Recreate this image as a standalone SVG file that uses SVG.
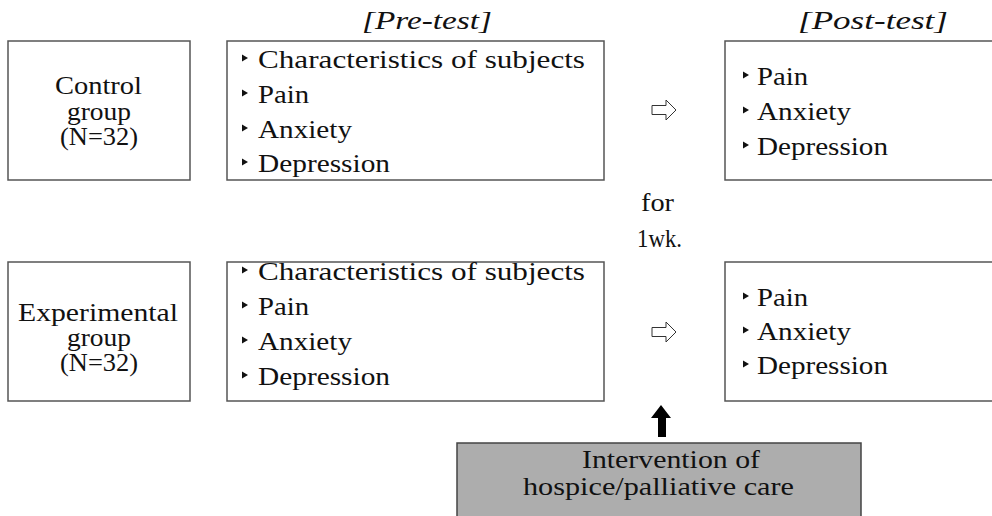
<svg xmlns="http://www.w3.org/2000/svg" width="992" height="516" viewBox="0 0 992 516">
<style>
.box{fill:#fff;stroke:#555;stroke-width:1.5}
.hollow{fill:#fff;stroke:#333;stroke-width:1}
</style>
<defs>
<path id="blt" d="M0,-3.5 L6,0 L0,3.5 Z" fill="#111"/>
<path id="harrow" d="M0,-4.5 H14 V-10 L24,0 L14,10 V4.5 H0 Z" class="hollow"/>
</defs>
<rect width="992" height="516" fill="#fff"/>
<g font-family="Liberation Serif, DejaVu Serif, Times New Roman, serif" font-size="25" fill="#111">
<text font-style="italic" x="362" y="29" textLength="130" lengthAdjust="spacingAndGlyphs">[Pre-test]</text>
<text font-style="italic" x="798" y="29" textLength="150" lengthAdjust="spacingAndGlyphs">[Post-test]</text>

<g id="control">
<rect class="box" x="8" y="41" width="182" height="139"/>
<text x="55" y="94" textLength="87" lengthAdjust="spacingAndGlyphs">Control</text>
<text x="67" y="120" textLength="64" lengthAdjust="spacingAndGlyphs">group</text>
<text x="60" y="145" textLength="78" lengthAdjust="spacingAndGlyphs">(N=32)</text>
</g>
<g id="pre-control">
<rect class="box" x="227" y="41" width="377" height="139"/>
<use href="#blt" x="242" y="58"/><text x="258" y="68" textLength="327" lengthAdjust="spacingAndGlyphs">Characteristics of subjects</text>
<use href="#blt" x="242" y="93"/><text x="258" y="103" textLength="51" lengthAdjust="spacingAndGlyphs">Pain</text>
<use href="#blt" x="242" y="128"/><text x="258" y="138" textLength="94" lengthAdjust="spacingAndGlyphs">Anxiety</text>
<use href="#blt" x="242" y="162"/><text x="258" y="172" textLength="132" lengthAdjust="spacingAndGlyphs">Depression</text>
</g>
<g id="post-control">
<rect class="box" x="725" y="41" width="280" height="139"/>
<use href="#blt" x="743" y="75"/><text x="757" y="85" textLength="51" lengthAdjust="spacingAndGlyphs">Pain</text>
<use href="#blt" x="743" y="110"/><text x="757" y="120" textLength="94" lengthAdjust="spacingAndGlyphs">Anxiety</text>
<use href="#blt" x="743" y="145"/><text x="757" y="155" textLength="131" lengthAdjust="spacingAndGlyphs">Depression</text>
</g>

<g id="experimental">
<rect class="box" x="8" y="262" width="182" height="139"/>
<text x="18" y="321" textLength="160" lengthAdjust="spacingAndGlyphs">Experimental</text>
<text x="67" y="346" textLength="64" lengthAdjust="spacingAndGlyphs">group</text>
<text x="60" y="371" textLength="78" lengthAdjust="spacingAndGlyphs">(N=32)</text>
</g>
<g id="pre-experimental">
<rect class="box" x="227" y="262" width="377" height="139"/>
<use href="#blt" x="242" y="270"/><text x="258" y="280" textLength="327" lengthAdjust="spacingAndGlyphs">Characteristics of subjects</text>
<use href="#blt" x="242" y="305"/><text x="258" y="315" textLength="51" lengthAdjust="spacingAndGlyphs">Pain</text>
<use href="#blt" x="242" y="340"/><text x="258" y="350" textLength="94" lengthAdjust="spacingAndGlyphs">Anxiety</text>
<use href="#blt" x="242" y="375"/><text x="258" y="385" textLength="132" lengthAdjust="spacingAndGlyphs">Depression</text>
</g>
<g id="post-experimental">
<rect class="box" x="725" y="262" width="280" height="139"/>
<use href="#blt" x="743" y="296"/><text x="757" y="306" textLength="51" lengthAdjust="spacingAndGlyphs">Pain</text>
<use href="#blt" x="743" y="330"/><text x="757" y="340" textLength="94" lengthAdjust="spacingAndGlyphs">Anxiety</text>
<use href="#blt" x="743" y="364"/><text x="757" y="374" textLength="131" lengthAdjust="spacingAndGlyphs">Depression</text>
</g>

<g id="intervention">
<rect x="457" y="443" width="404" height="80" fill="#adadad" stroke="#444" stroke-width="1.5"/>
<text x="582" y="468" textLength="178" lengthAdjust="spacingAndGlyphs">Intervention of</text>
<text x="523" y="495" textLength="271" lengthAdjust="spacingAndGlyphs">hospice/palliative care</text>
</g>

<g id="connectors">
<use href="#harrow" x="652" y="110"/>
<use href="#harrow" x="652" y="332"/>
<text x="641" y="211" textLength="33" lengthAdjust="spacingAndGlyphs">for</text>
<text x="637" y="247" textLength="45" lengthAdjust="spacingAndGlyphs">1wk.</text>
<path d="M658,437 V418 H651 L661,405 L671,418 H666 V437 Z" fill="#000"/>
</g>
</g>
</svg>
